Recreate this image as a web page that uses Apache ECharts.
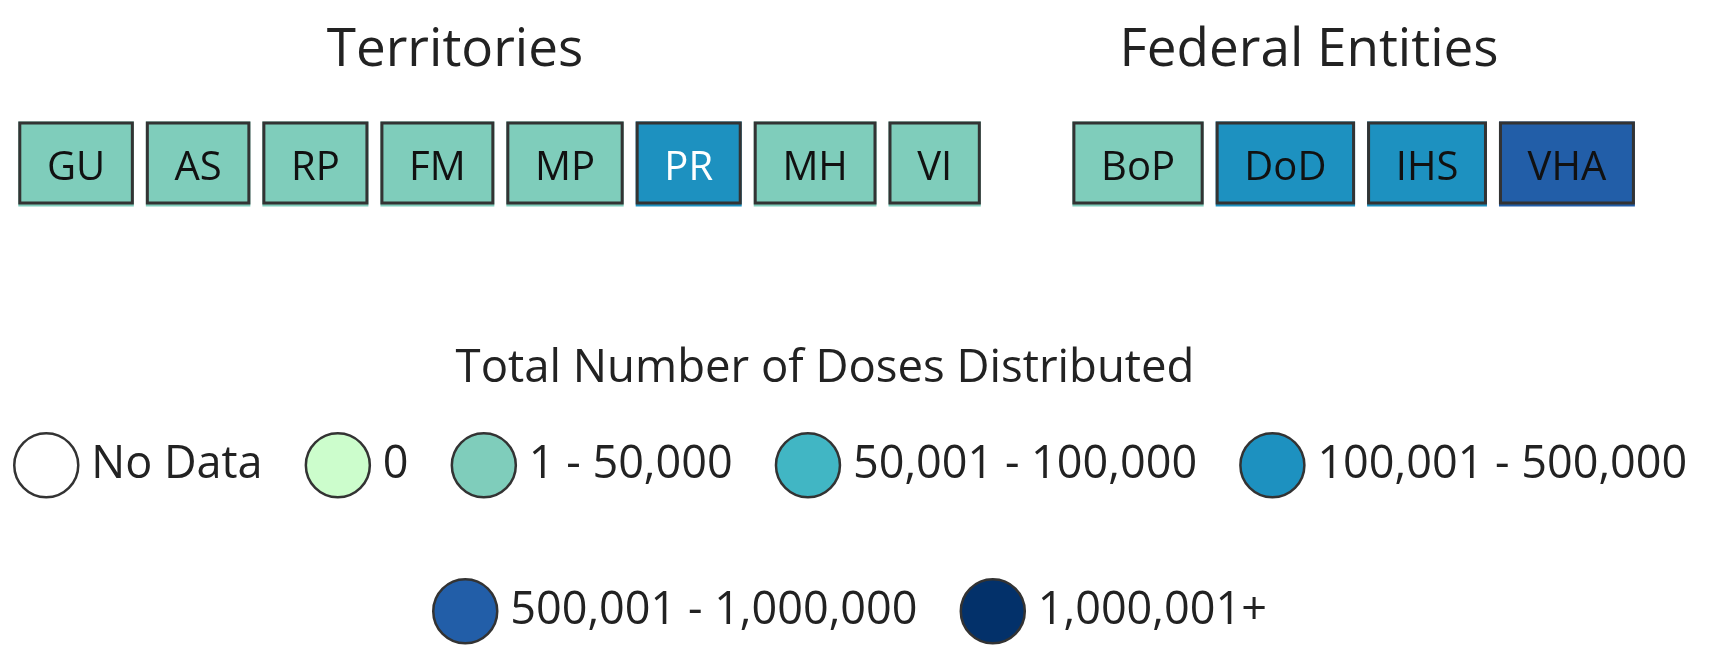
<!DOCTYPE html>
<html>
<head>
<meta charset="utf-8">
<script src="https://cdn.jsdelivr.net/npm/echarts@6/dist/echarts.min.js"></script>
<style>
html, body { margin: 0; background: #fff; }
#chart { width: 1730px; height: 655px; }
</style>
</head>
<body>
<div id="chart"></div>
<script>
// which dose bucket each place falls into
const territories = ['GU', 'AS', 'RP', 'FM', 'MP', 'PR', 'MH', 'VI'];
const territoryBuckets = ['1 - 50,000', '1 - 50,000', '1 - 50,000', '1 - 50,000', '1 - 50,000', '100,001 - 500,000', '1 - 50,000', '1 - 50,000'];
const federalEntities = ['BoP', 'DoD', 'IHS', 'VHA'];
const federalBuckets = ['1 - 50,000', '100,001 - 500,000', '100,001 - 500,000', '500,001 - 1,000,000'];
const buckets = ['No Data', '0', '1 - 50,000', '50,001 - 100,000', '100,001 - 500,000', '500,001 - 1,000,000', '1,000,001+'];

const bucketColors = ['#ffffff', '#ccfdcc', '#7fcdbb', '#41b6c4', '#1d91c0', '#225ea8', '#03316a'];
const whiteLabels = ['PR'];

// tile width follows the label width
const ctx = document.createElement('canvas').getContext('2d');
ctx.font = '40px "Open Sans"';

function layoutRow(names, rowBuckets, startX) {
	let x = startX;
	return names.map(function(n, i) {
		let w = ctx.measureText(n).width + 57.3;
		let item = { name: n, bucket: rowBuckets[i], value: [x, x + w] };
		x += w + 12;
		return item;
	});
}

const tiles = layoutRow(territories, territoryBuckets, 18.3)
	.concat(layoutRow(federalEntities, federalBuckets, 1072.4));

let myChart = echarts.init(document.getElementById('chart'));

const series = buckets.map(function(b, k) {
	let data = tiles.filter(function(t) { return t.bucket === b; });
	return {
		name: b,
		type: 'custom',
		itemStyle: { color: bucketColors[k] },
		data: data,
		renderItem: function(params, api) {
			let p0 = api.coord([api.value(0), 0]);
			let p1 = api.coord([api.value(1), 0]);
			let h = api.size([0, 1])[1];
			let w = p1[0] - p0[0];
			let top = p0[1] - h / 2;
			let name = data[params.dataIndex].name;
			return {
				type: 'group',
				children: [{
					type: 'rect',
					shape: { x: p0[0], y: top, width: w, height: h + 2 },
					style: { fill: bucketColors[k] }
				}, {
					type: 'rect',
					shape: { x: p0[0] + 1.5, y: top + 1.5, width: w - 3, height: h - 3 },
					style: { fill: null, stroke: '#333', lineWidth: 3 }
				}, {
					type: 'text',
					x: p0[0] + w / 2,
					y: p0[1] + 6,
					style: {
						text: name,
						align: 'center',
						verticalAlign: 'middle',
						fontSize: 40,
						fontFamily: 'Open Sans',
						fill: whiteLabels.indexOf(name) >= 0 ? '#fff' : '#111'
					}
				}]
			};
		}
	};
});

const legendBase = {
	padding: 0,
	itemWidth: 64,
	itemHeight: 64,
	itemGap: 42,
	icon: 'circle',
	selectedMode: false,
	itemStyle: { borderColor: '#333', borderWidth: 2.5 },
	textStyle: { fontSize: 45, fontFamily: 'Open Sans', color: '#222', padding: [0, 0, 0, 8] }
};

const titleStyle = { fontSize: 53, fontWeight: 'normal', fontFamily: 'Open Sans', color: '#222' };

option = {
	animation: false,
	backgroundColor: '#fff',
	title: [{
		text: 'Territories',
		left: 450,
		top: 19,
		textAlign: 'center',
		textStyle: titleStyle
	}, {
		text: 'Federal Entities',
		left: 1304,
		top: 19,
		textAlign: 'center',
		textStyle: titleStyle
	}, {
		text: 'Total Number of Doses Distributed',
		left: 820,
		top: 341,
		textAlign: 'center',
		textStyle: { fontSize: 45.5, fontWeight: 'normal', fontFamily: 'Open Sans', color: '#222' }
	}],
	legend: [
		Object.assign({}, legendBase, { data: buckets.slice(0, 5), left: 13, top: 432 }),
		Object.assign({}, legendBase, { data: buckets.slice(5), left: 432, top: 578 })
	],
	grid: {
		left: 0,
		right: 0,
		top: 121.5,
		height: 83
	},
	xAxis: {
		type: 'value',
		min: 0,
		max: 1730,
		show: false
	},
	yAxis: {
		type: 'category',
		data: ['tiles'],
		show: false
	},
	series: series
};

myChart.setOption(option);
window.addEventListener('resize', function() {
	myChart.resize();
})
</script>
</body>
</html>
